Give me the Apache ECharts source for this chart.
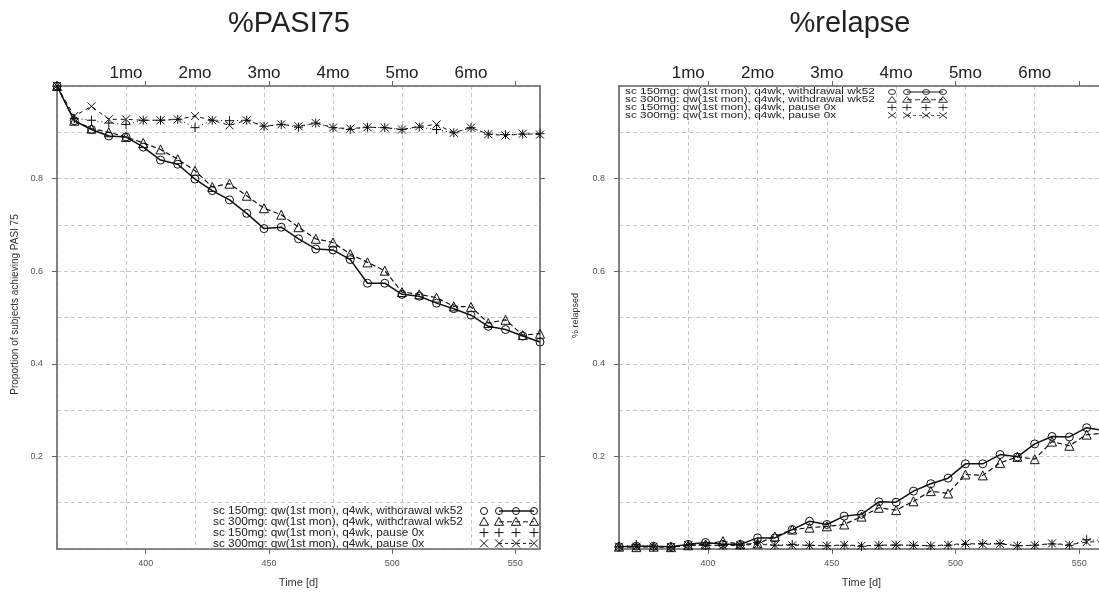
<!DOCTYPE html>
<html lang="en">
<head>
<meta charset="UTF-8">
<title>PASI75 / relapse</title>
<script src="https://cdn.jsdelivr.net/npm/echarts@6/dist/echarts.min.js"></script>
<style>
    html, body { padding: 0; margin: 0; width: 100%; height: 100%; background: #fff; }
    #main { width: 1099px; height: 592px; }
</style>
</head>
<body>
<div id="main"></div>
<script type="text/javascript">
// time points (days)
var days = [364, 371, 378, 385, 392, 399, 406, 413, 420, 427, 434, 441, 448, 455, 462,
            469, 476, 483, 490, 497, 504, 511, 518, 525, 532, 539, 546, 553, 560];

// %PASI75 panel
var pasi150w = [1.000, 0.925, 0.906, 0.892, 0.890, 0.868, 0.840, 0.831, 0.799, 0.774, 0.754, 0.725, 0.692, 0.695, 0.670,
                0.648, 0.646, 0.625, 0.574, 0.574, 0.550, 0.546, 0.531, 0.519, 0.505, 0.481, 0.474, 0.460, 0.447];
var pasi300w = [1.000, 0.925, 0.908, 0.900, 0.890, 0.877, 0.863, 0.842, 0.817, 0.782, 0.789, 0.763, 0.736, 0.722, 0.695,
                0.670, 0.662, 0.637, 0.619, 0.601, 0.555, 0.550, 0.543, 0.524, 0.523, 0.488, 0.495, 0.462, 0.465];
var pasi150p = [1.000, 0.930, 0.926, 0.920, 0.917, 0.926, 0.926, 0.928, 0.910, 0.926, 0.925, 0.926, 0.913, 0.917, 0.911,
                0.920, 0.910, 0.906, 0.911, 0.910, 0.906, 0.911, 0.906, 0.899, 0.910, 0.896, 0.895, 0.896, 0.897];
var pasi300p = [1.000, 0.935, 0.956, 0.928, 0.928, 0.926, 0.926, 0.928, 0.935, 0.926, 0.915, 0.926, 0.913, 0.917, 0.913,
                0.920, 0.910, 0.908, 0.911, 0.910, 0.906, 0.913, 0.917, 0.899, 0.910, 0.896, 0.893, 0.897, 0.895];

// %relapse panel
var rel150w = [0.005, 0.006, 0.006, 0.005, 0.010, 0.014, 0.010, 0.010, 0.024, 0.024, 0.042, 0.060, 0.053, 0.071, 0.075,
               0.102, 0.101, 0.125, 0.141, 0.153, 0.184, 0.184, 0.204, 0.199, 0.227, 0.243, 0.242, 0.262, 0.256];
var rel300w = [0.005, 0.004, 0.005, 0.004, 0.008, 0.010, 0.017, 0.010, 0.012, 0.027, 0.042, 0.046, 0.049, 0.053, 0.070,
               0.089, 0.084, 0.103, 0.125, 0.120, 0.161, 0.159, 0.186, 0.199, 0.194, 0.232, 0.223, 0.247, 0.250];
var rel150p = [0.005, 0.010, 0.005, 0.004, 0.008, 0.008, 0.008, 0.008, 0.014, 0.008, 0.010, 0.008, 0.007, 0.008, 0.006,
               0.008, 0.008, 0.008, 0.007, 0.008, 0.010, 0.012, 0.012, 0.007, 0.008, 0.011, 0.008, 0.020, 0.018];
var rel300p = [0.005, 0.005, 0.005, 0.004, 0.008, 0.008, 0.007, 0.008, 0.010, 0.008, 0.008, 0.008, 0.007, 0.009, 0.007,
               0.008, 0.009, 0.008, 0.007, 0.009, 0.012, 0.010, 0.011, 0.007, 0.008, 0.012, 0.009, 0.015, 0.016];

// labels
var legendNames = ['sc 150mg: qw(1st mon), q4wk, withdrawal wk52',
                   'sc 300mg: qw(1st mon), q4wk, withdrawal wk52',
                   'sc 150mg: qw(1st mon), q4wk, pause 0x',
                   'sc 300mg: qw(1st mon), q4wk, pause 0x'];
var months = ['1mo', '2mo', '3mo', '4mo', '5mo', '6mo'];
var dayTicks = [400, 450, 500, 550];
var yTicks = [0.2, 0.4, 0.6, 0.8];

var FONT = '"Liberation Sans", Arial, sans-serif';
var AXIS = {color: '#666', width: 1.6};
var GRIDLINE = {color: '#c8c8c8', type: [4, 3], width: 1};

// look of the 4 series (circle solid, triangle dashed, plus, cross)
var looks = [
    {symbol: 'circle', size: 8, type: 'solid', width: 1.5, dash: null},
    {symbol: 'triangle', size: 9, type: [5, 3], width: 1.2, dash: [5, 3]},
    {symbol: 'path://M0,5L10,5M5,0L5,10', size: 9, type: [1, 3], width: 1, dash: null},
    {symbol: 'path://M0,0L10,10M10,0L0,10', size: 8, type: [4, 4], width: 1, dash: [3, 3]}
];

function xAxes(g) {
    return [
        {gridIndex: g, type: 'value', position: 'bottom', min: 364, max: 560,
         axisLine: {show: true, onZero: false, lineStyle: AXIS},
         axisTick: {show: true, customValues: dayTicks, length: 5, lineStyle: {color: '#666'}},
         axisLabel: {customValues: dayTicks, fontSize: 9, color: '#555', margin: 10, fontFamily: FONT},
         splitLine: {show: false},
         name: 'Time [d]', nameLocation: 'middle', nameGap: 28,
         nameTextStyle: {fontSize: 11, color: '#333', fontFamily: FONT}},
        {gridIndex: g, type: 'value', position: 'top', min: 364, max: 560, interval: 28,
         axisLine: {show: true, onZero: false, lineStyle: AXIS},
         axisTick: {show: false},
         axisLabel: {fontSize: 17, color: '#222', margin: 4, fontFamily: FONT,
                     formatter: function (v) {
                         var k = Math.round((v - 364) / 28);
                         return (k >= 1 && k <= months.length) ? months[k - 1] : '';
                     }},
         splitLine: {show: true, lineStyle: GRIDLINE}},
        {gridIndex: g, type: 'value', position: 'top', min: 364, max: 560,
         axisLine: {show: false, onZero: false},
         axisTick: {show: true, customValues: dayTicks, length: 5, lineStyle: {color: '#666'}},
         axisLabel: {show: false},
         splitLine: {show: false}}
    ];
}

function yAxes(g, name, gap, nameSize, namePad) {
    return [
        {gridIndex: g, type: 'value', position: 'left', min: 0, max: 1,
         axisLine: {show: true, onZero: false, lineStyle: AXIS},
         axisTick: {show: true, customValues: yTicks, length: 5, lineStyle: {color: '#666'}},
         axisLabel: {customValues: yTicks, fontSize: 9, color: '#555', margin: 14, fontFamily: FONT,
                     formatter: function (v) { return v.toFixed(1); }},
         splitLine: {show: false},
         name: name, nameLocation: 'middle', nameGap: gap,
         nameTextStyle: {fontSize: nameSize, color: '#333', fontFamily: FONT, padding: namePad}},
        {gridIndex: g, type: 'value', min: 0, max: 1, interval: 0.1,
         axisLine: {show: false, onZero: false}, axisTick: {show: false}, axisLabel: {show: false},
         splitLine: {show: true, lineStyle: GRIDLINE}},
        {gridIndex: g, type: 'value', position: 'right', min: 0, max: 1,
         axisLine: {show: true, onZero: false, lineStyle: AXIS},
         axisTick: {show: true, customValues: yTicks, length: 5, lineStyle: {color: '#666'}},
         axisLabel: {show: false},
         splitLine: {show: false}}
    ];
}

function makeSeries(g, vals, k) {
    var lk = looks[k];
    return {
        type: 'line', name: legendNames[k], xAxisIndex: g * 3, yAxisIndex: g * 3,
        data: days.map(function (d, i) { return [d, vals[i]]; }),
        symbol: lk.symbol, symbolSize: lk.size, showAllSymbol: true,
        lineStyle: {color: '#111', width: lk.width, type: lk.type},
        itemStyle: {color: 'rgba(0,0,0,0)', borderColor: '#111', borderWidth: 1},
        emphasis: {disabled: true}, z: 3
    };
}

// little legend glyphs
function mark(k, x, y) {
    var s = {fill: 'none', stroke: '#111', lineWidth: 1};
    if (k === 0) return [{type: 'circle', shape: {cx: x, cy: y, r: 3.5}, style: s}];
    if (k === 1) return [{type: 'polygon', shape: {points: [[x, y - 4.5], [x + 4.5, y + 3.5], [x - 4.5, y + 3.5]]}, style: s}];
    if (k === 2) return [{type: 'line', shape: {x1: x - 4.5, y1: y, x2: x + 4.5, y2: y}, style: s},
                         {type: 'line', shape: {x1: x, y1: y - 4.5, x2: x, y2: y + 4.5}, style: s}];
    return [{type: 'line', shape: {x1: x - 4, y1: y - 4, x2: x + 4, y2: y + 4}, style: s},
            {type: 'line', shape: {x1: x + 4, y1: y - 4, x2: x - 4, y2: y + 4}, style: s}];
}

function legendGroup(x, y, sx, scaleY) {
    var kids = [];
    legendNames.forEach(function (name, k) {
        var cy = k * 10.8;
        kids.push({type: 'text', x: 0, y: cy,
                   style: {text: name, font: '11.8px ' + FONT, fill: '#222', verticalAlign: 'middle'}});
        kids = kids.concat(mark(k, sx[0], cy));
        if (k === 0) {
            kids.push({type: 'line', shape: {x1: sx[1], y1: cy, x2: sx[3], y2: cy}, style: {stroke: '#111', lineWidth: 1.3}});
        } else if (looks[k].dash) {
            kids.push({type: 'line', shape: {x1: sx[1], y1: cy, x2: sx[3], y2: cy},
                       style: {stroke: '#111', lineWidth: 1, lineDash: looks[k].dash}});
        }
        kids = kids.concat(mark(k, sx[1], cy), mark(k, sx[2], cy), mark(k, sx[3], cy));
    });
    return {type: 'group', x: x, y: y, scaleY: scaleY, children: kids, z: 10};
}

var chart = echarts.init(document.getElementById('main'));
var option = {
    animation: false,
    backgroundColor: '#fff',
    title: [
        {text: '%PASI75', left: 284, top: 4, textAlign: 'center',
         textStyle: {fontSize: 29, fontWeight: 'normal', color: '#222', fontFamily: FONT}},
        {text: '%relapse', left: 845, top: 4, textAlign: 'center',
         textStyle: {fontSize: 29, fontWeight: 'normal', color: '#222', fontFamily: FONT}}
    ],
    grid: [
        {left: 57, top: 86, width: 483, height: 463, outerBoundsMode: 'none'},
        {left: 619, top: 86, width: 485, height: 463, outerBoundsMode: 'none'}
    ],
    xAxis: xAxes(0).concat(xAxes(1)),
    yAxis: yAxes(0, 'Proportion of subjects achieving PASI 75', 37, 10, [0, 0, 0, 26])
        .concat(yAxes(1, '% relapsed', 39, 9, [0, 0, 0, 4])),
    series: [
        makeSeries(0, pasi150w, 0), makeSeries(0, pasi300w, 1), makeSeries(0, pasi150p, 2), makeSeries(0, pasi300p, 3),
        makeSeries(1, rel150w, 0), makeSeries(1, rel300w, 1), makeSeries(1, rel150p, 2), makeSeries(1, rel300p, 3)
    ],
    graphic: [
        legendGroup(213, 511, [271, 286, 303, 321], 1),
        legendGroup(625, 92, [267, 282, 301, 318], 0.72)
    ]
};
chart.setOption(option);
</script>
</body>
</html>
